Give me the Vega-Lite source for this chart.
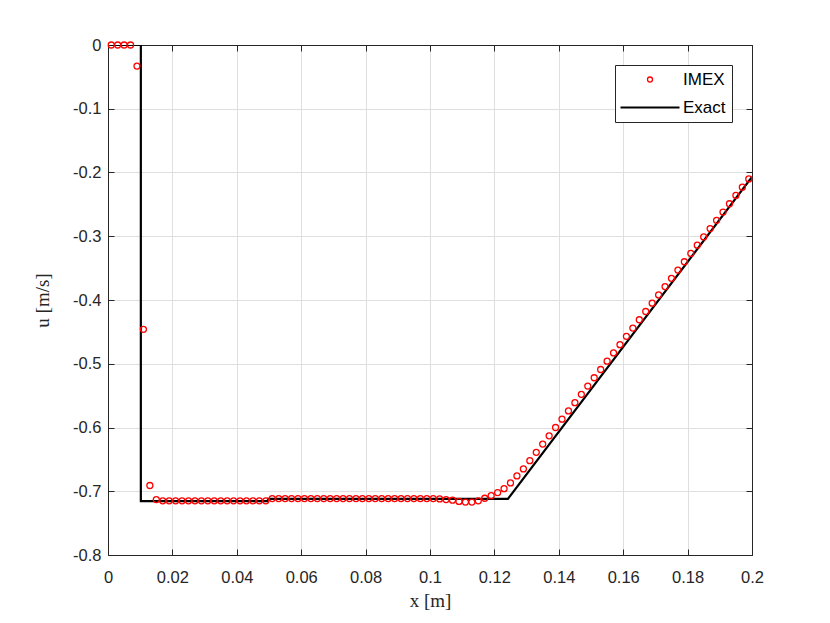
{
  "$schema": "https://vega.github.io/schema/vega-lite/v6.json",
  "width": 644,
  "height": 510,
  "autosize": {"type": "none"},
  "padding": {"left": 108, "top": 45, "right": 78, "bottom": 68},
  "background": "white",
  "config": {
    "font": "Liberation Sans",
    "view": {"stroke": "#262626", "strokeWidth": 1},
    "axis": {
      "labelFont": "Liberation Sans",
      "labelFontSize": 16.5,
      "labelColor": "#262626",
      "labelFlush": false,
      "labelOverlap": false,
      "domainColor": "#262626",
      "tickColor": "#262626",
      "tickWidth": 1,
      "gridColor": "#dfdfdf",
      "tickSize": -6,
      "titleFont": "Liberation Serif",
      "titleFontSize": 19,
      "titleFontWeight": "normal",
      "titleColor": "#262626"
    }
  },
  "datasets": {
    "imex": [
      {"x": 0.001, "u": 0, "series": "IMEX"},
      {"x": 0.003, "u": 0, "series": "IMEX"},
      {"x": 0.005, "u": 0, "series": "IMEX"},
      {"x": 0.007, "u": 0, "series": "IMEX"},
      {"x": 0.009, "u": -0.033, "series": "IMEX"},
      {"x": 0.011, "u": -0.446, "series": "IMEX"},
      {"x": 0.013, "u": -0.691, "series": "IMEX"},
      {"x": 0.015, "u": -0.713, "series": "IMEX"},
      {"x": 0.017, "u": -0.715, "series": "IMEX"},
      {"x": 0.019, "u": -0.715, "series": "IMEX"},
      {"x": 0.021, "u": -0.715, "series": "IMEX"},
      {"x": 0.023, "u": -0.715, "series": "IMEX"},
      {"x": 0.025, "u": -0.715, "series": "IMEX"},
      {"x": 0.027, "u": -0.715, "series": "IMEX"},
      {"x": 0.029, "u": -0.715, "series": "IMEX"},
      {"x": 0.031, "u": -0.715, "series": "IMEX"},
      {"x": 0.033, "u": -0.715, "series": "IMEX"},
      {"x": 0.035, "u": -0.715, "series": "IMEX"},
      {"x": 0.037, "u": -0.715, "series": "IMEX"},
      {"x": 0.039, "u": -0.715, "series": "IMEX"},
      {"x": 0.041, "u": -0.715, "series": "IMEX"},
      {"x": 0.043, "u": -0.715, "series": "IMEX"},
      {"x": 0.045, "u": -0.715, "series": "IMEX"},
      {"x": 0.047, "u": -0.715, "series": "IMEX"},
      {"x": 0.049, "u": -0.715, "series": "IMEX"},
      {"x": 0.051, "u": -0.7115, "series": "IMEX"},
      {"x": 0.053, "u": -0.7115, "series": "IMEX"},
      {"x": 0.055, "u": -0.7115, "series": "IMEX"},
      {"x": 0.057, "u": -0.7115, "series": "IMEX"},
      {"x": 0.059, "u": -0.7115, "series": "IMEX"},
      {"x": 0.061, "u": -0.7115, "series": "IMEX"},
      {"x": 0.063, "u": -0.7115, "series": "IMEX"},
      {"x": 0.065, "u": -0.7115, "series": "IMEX"},
      {"x": 0.067, "u": -0.7115, "series": "IMEX"},
      {"x": 0.069, "u": -0.7115, "series": "IMEX"},
      {"x": 0.071, "u": -0.7115, "series": "IMEX"},
      {"x": 0.073, "u": -0.7115, "series": "IMEX"},
      {"x": 0.075, "u": -0.7115, "series": "IMEX"},
      {"x": 0.077, "u": -0.7115, "series": "IMEX"},
      {"x": 0.079, "u": -0.7115, "series": "IMEX"},
      {"x": 0.081, "u": -0.7115, "series": "IMEX"},
      {"x": 0.083, "u": -0.7115, "series": "IMEX"},
      {"x": 0.085, "u": -0.7115, "series": "IMEX"},
      {"x": 0.087, "u": -0.7115, "series": "IMEX"},
      {"x": 0.089, "u": -0.7115, "series": "IMEX"},
      {"x": 0.091, "u": -0.7115, "series": "IMEX"},
      {"x": 0.093, "u": -0.7115, "series": "IMEX"},
      {"x": 0.095, "u": -0.7115, "series": "IMEX"},
      {"x": 0.097, "u": -0.7115, "series": "IMEX"},
      {"x": 0.099, "u": -0.7115, "series": "IMEX"},
      {"x": 0.101, "u": -0.7115, "series": "IMEX"},
      {"x": 0.103, "u": -0.712, "series": "IMEX"},
      {"x": 0.105, "u": -0.713, "series": "IMEX"},
      {"x": 0.107, "u": -0.714, "series": "IMEX"},
      {"x": 0.109, "u": -0.716, "series": "IMEX"},
      {"x": 0.111, "u": -0.717, "series": "IMEX"},
      {"x": 0.113, "u": -0.717, "series": "IMEX"},
      {"x": 0.115, "u": -0.715, "series": "IMEX"},
      {"x": 0.117, "u": -0.711, "series": "IMEX"},
      {"x": 0.119, "u": -0.707, "series": "IMEX"},
      {"x": 0.121, "u": -0.702, "series": "IMEX"},
      {"x": 0.123, "u": -0.696, "series": "IMEX"},
      {"x": 0.125, "u": -0.687, "series": "IMEX"},
      {"x": 0.127, "u": -0.676, "series": "IMEX"},
      {"x": 0.129, "u": -0.665, "series": "IMEX"},
      {"x": 0.131, "u": -0.652, "series": "IMEX"},
      {"x": 0.133, "u": -0.639, "series": "IMEX"},
      {"x": 0.135, "u": -0.626, "series": "IMEX"},
      {"x": 0.137, "u": -0.613, "series": "IMEX"},
      {"x": 0.139, "u": -0.600, "series": "IMEX"},
      {"x": 0.141, "u": -0.587, "series": "IMEX"},
      {"x": 0.143, "u": -0.574, "series": "IMEX"},
      {"x": 0.145, "u": -0.561, "series": "IMEX"},
      {"x": 0.147, "u": -0.548, "series": "IMEX"},
      {"x": 0.149, "u": -0.535, "series": "IMEX"},
      {"x": 0.151, "u": -0.522, "series": "IMEX"},
      {"x": 0.153, "u": -0.509, "series": "IMEX"},
      {"x": 0.155, "u": -0.496, "series": "IMEX"},
      {"x": 0.157, "u": -0.483, "series": "IMEX"},
      {"x": 0.159, "u": -0.470, "series": "IMEX"},
      {"x": 0.161, "u": -0.457, "series": "IMEX"},
      {"x": 0.163, "u": -0.444, "series": "IMEX"},
      {"x": 0.165, "u": -0.431, "series": "IMEX"},
      {"x": 0.167, "u": -0.418, "series": "IMEX"},
      {"x": 0.169, "u": -0.405, "series": "IMEX"},
      {"x": 0.171, "u": -0.392, "series": "IMEX"},
      {"x": 0.173, "u": -0.379, "series": "IMEX"},
      {"x": 0.175, "u": -0.366, "series": "IMEX"},
      {"x": 0.177, "u": -0.353, "series": "IMEX"},
      {"x": 0.179, "u": -0.340, "series": "IMEX"},
      {"x": 0.181, "u": -0.327, "series": "IMEX"},
      {"x": 0.183, "u": -0.314, "series": "IMEX"},
      {"x": 0.185, "u": -0.301, "series": "IMEX"},
      {"x": 0.187, "u": -0.288, "series": "IMEX"},
      {"x": 0.189, "u": -0.275, "series": "IMEX"},
      {"x": 0.191, "u": -0.262, "series": "IMEX"},
      {"x": 0.193, "u": -0.249, "series": "IMEX"},
      {"x": 0.195, "u": -0.236, "series": "IMEX"},
      {"x": 0.197, "u": -0.223, "series": "IMEX"},
      {"x": 0.199, "u": -0.210, "series": "IMEX"}
    ],
    "exact": [
      {"k": 1, "x": 0, "u": 0, "series": "Exact"},
      {"k": 2, "x": 0.0102, "u": 0, "series": "Exact"},
      {"k": 3, "x": 0.0102, "u": -0.7155, "series": "Exact"},
      {"k": 4, "x": 0.0497, "u": -0.7155, "series": "Exact"},
      {"k": 5, "x": 0.0497, "u": -0.712, "series": "Exact"},
      {"k": 6, "x": 0.1242, "u": -0.712, "series": "Exact"},
      {"k": 7, "x": 0.2, "u": -0.207, "series": "Exact"}
    ]
  },
  "encoding": {
    "x": {"field": "x", "type": "quantitative", "scale": {"domain": [0, 0.2], "nice": false, "zero": false}},
    "y": {"field": "u", "type": "quantitative", "scale": {"domain": [-0.8, 0], "nice": false, "zero": false}}
  },
  "layer": [
    {
      "data": {"name": "exact"},
      "mark": {"type": "line", "strokeWidth": 2.2, "clip": true},
      "encoding": {
        "x": {"field": "x", "type": "quantitative",
          "axis": {"orient": "bottom", "values": [0, 0.02, 0.04, 0.06, 0.08, 0.1, 0.12, 0.14, 0.16, 0.18, 0.2], "format": "~g", "labelExpr": "replace(datum.label, '\u2212', '-')", "title": "x [m]", "labelPadding": 20, "titlePadding": 6, "grid": true}},
        "y": {"field": "u", "type": "quantitative",
          "axis": {"orient": "left", "values": [0, -0.1, -0.2, -0.3, -0.4, -0.5, -0.6, -0.7, -0.8], "format": "~g", "labelExpr": "replace(datum.label, '\u2212', '-')", "title": "u [m/s]", "labelPadding": 13, "titlePadding": 20, "grid": true}},
        "order": {"field": "k", "type": "quantitative"},
        "color": {"field": "series", "type": "nominal",
          "scale": {"domain": ["IMEX", "Exact"], "range": ["#ff0000", "#000000"]},
          "legend": {
            "title": null,
            "orient": "top-right",
            "offset": 20,
            "fillColor": "white",
            "strokeColor": "#262626",
            "padding": 6,
            "labelFont": "Liberation Sans",
            "labelFontSize": 17,
            "labelColor": "#000000",
            "rowPadding": 10,
            "symbolType": "stroke",
            "encode": {
              "symbols": {
                "update": {
                  "x": {"value": 29},
                  "shape": {"signal": "datum.value === 'Exact' ? 'stroke' : 'circle'"},
                  "size": {"signal": "datum.value === 'Exact' ? 3481 : 25"},
                  "strokeWidth": {"signal": "datum.value === 'Exact' ? 2.2 : 1.3"},
                  "fill": {"value": "transparent"},
                  "fillOpacity": {"value": 0}
                }
              },
              "labels": {
                "update": {
                  "x": {"value": 62}
                }
              }
            }
          }}
      }
    },
    {
      "data": {"name": "imex"},
      "mark": {"type": "point", "shape": "circle", "filled": false, "size": 36, "strokeWidth": 1.3, "opacity": 1, "clip": false},
      "encoding": {
        "x": {"field": "x", "type": "quantitative",
          "axis": {"orient": "top", "values": [0, 0.02, 0.04, 0.06, 0.08, 0.1, 0.12, 0.14, 0.16, 0.18, 0.2], "labels": false, "title": null, "grid": false}},
        "y": {"field": "u", "type": "quantitative",
          "axis": {"orient": "right", "values": [0, -0.1, -0.2, -0.3, -0.4, -0.5, -0.6, -0.7, -0.8], "labels": false, "title": null, "grid": false}},
        "color": {"field": "series", "type": "nominal"}
      }
    }
  ],
  "resolve": {"axis": {"x": "independent", "y": "independent"}}
}
